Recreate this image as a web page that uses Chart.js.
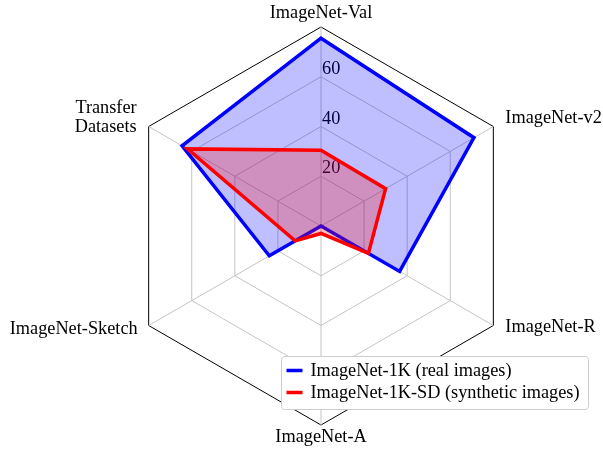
<!DOCTYPE html>
<html>
<head>
<meta charset="utf-8">
<script src="https://cdn.jsdelivr.net/npm/chart.js"></script>
<style>
  html, body { margin: 0; padding: 0; background: #fff; }
  #wrap { width: 603px; height: 451px; }
</style>
</head>
<body>
<div id="wrap"><canvas id="radar" width="603" height="451"></canvas></div>
<script>
// axes, clockwise from the top
const axisLabels = ['ImageNet-Val', 'ImageNet-v2', 'ImageNet-R', 'ImageNet-A', 'ImageNet-Sketch', ['Transfer', 'Datasets']];
const realImages = [75.5, 71, 36.5, 0, 24, 64.5];
const syntheticImages = [30.5, 30, 22, 3, 12, 62];
const tickValues = [20, 40, 60];
const seriesNames = ['ImageNet-1K (real images)', 'ImageNet-1K-SD (synthetic images)'];

const FONT = '18.3px "Liberation Serif", "DejaVu Serif", serif';

// tick numbers sit just above each ring, right of the vertical axis line, under the fills
const tickLabelPlugin = {
  id: 'tickLabels',
  beforeDatasetsDraw(chart) {
    const scale = chart.scales.r;
    const ctx = chart.ctx;
    ctx.save();
    ctx.font = FONT;
    ctx.fillStyle = '#000';
    ctx.textAlign = 'left';
    ctx.textBaseline = 'alphabetic';
    tickValues.forEach(v => {
      const p = scale.getPointPositionForValue(0, v);
      ctx.fillText(String(v), p.x + 1, p.y - 3);
    });
    ctx.restore();
  }
};

// point labels placed around the outer hexagon
const pointLabelPlugin = {
  id: 'axisNames',
  afterDraw(chart) {
    const scale = chart.scales.r;
    const ctx = chart.ctx;
    const place = [
      { align: 'center', dx: 0, dy: -14 },
      { align: 'left', dx: 12, dy: -8 },
      { align: 'left', dx: 12, dy: 2 },
      { align: 'center', dx: 0, dy: 12 },
      { align: 'right', dx: -11, dy: 4 },
      { align: 'right', dx: -12, dy: -18 }
    ];
    ctx.save();
    ctx.font = FONT;
    ctx.fillStyle = '#000';
    ctx.textBaseline = 'middle';
    axisLabels.forEach((lbl, i) => {
      const p = scale.getPointPositionForValue(i, scale.max);
      const s = place[i];
      ctx.textAlign = s.align;
      const lines = Array.isArray(lbl) ? lbl : [lbl];
      lines.forEach((t, k) => ctx.fillText(t, p.x + s.dx, p.y + s.dy + k * 19));
    });
    ctx.restore();
  }
};

// boxed legend in the lower right
const legendPlugin = {
  id: 'boxLegend',
  afterDraw(chart) {
    const ctx = chart.ctx;
    const x = 281.5, y = 356.5, w = 307, h = 53;
    ctx.save();
    ctx.beginPath();
    ctx.roundRect(x, y, w, h, 3);
    ctx.fillStyle = '#fff';
    ctx.fill();
    ctx.strokeStyle = '#cccccc';
    ctx.lineWidth = 1;
    ctx.stroke();
    ctx.font = FONT;
    ctx.textAlign = 'left';
    ctx.textBaseline = 'middle';
    chart.data.datasets.forEach((ds, i) => {
      const cy = y + 14 + i * 22;
      ctx.beginPath();
      ctx.moveTo(x + 5, cy);
      ctx.lineTo(x + 21, cy);
      ctx.strokeStyle = ds.borderColor;
      ctx.lineWidth = 3.5;
      ctx.stroke();
      ctx.fillStyle = '#000';
      ctx.fillText(ds.label, x + 29, cy + 1);
    });
    ctx.restore();
  }
};

new Chart(document.getElementById('radar'), {
  type: 'radar',
  data: {
    labels: axisLabels,
    datasets: [
      {
        label: seriesNames[0],
        data: realImages,
        borderColor: '#0000ff',
        backgroundColor: 'rgba(0, 0, 255, 0.25)',
        borderWidth: 3.5,
        borderJoinStyle: 'miter',
        pointRadius: 0,
        fill: true,
        order: 1
      },
      {
        label: seriesNames[1],
        data: syntheticImages,
        borderColor: '#ff0000',
        backgroundColor: 'rgba(255, 0, 0, 0.25)',
        borderWidth: 3.5,
        borderJoinStyle: 'miter',
        pointRadius: 0,
        fill: true,
        order: 0
      }
    ]
  },
  options: {
    responsive: false,
    animation: false,
    devicePixelRatio: 1,
    layout: { padding: { left: 122, right: 83, top: 27, bottom: 26 } },
    plugins: { legend: { display: false }, tooltip: { enabled: false } },
    elements: { line: { tension: 0 } },
    scales: {
      r: {
        min: 0,
        max: 80,
        ticks: { stepSize: 20, display: false },
        pointLabels: { display: false },
        grid: {
          color: c => (c.tick && c.tick.value === 80 ? '#000000' : '#c4c4c4'),
          lineWidth: 1
        },
        angleLines: { color: '#c4c4c4', lineWidth: 1 }
      }
    }
  },
  plugins: [tickLabelPlugin, pointLabelPlugin, legendPlugin]
});
</script>
</body>
</html>
